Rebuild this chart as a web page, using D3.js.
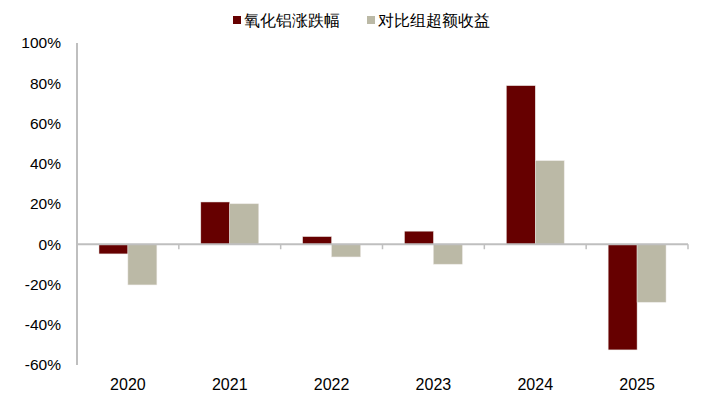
<!DOCTYPE html>
<html>
<head>
<meta charset="utf-8">
<script src="https://cdn.jsdelivr.net/npm/d3@7"></script>
<style>
  body { margin: 0; background: #fff; }
  text { font-family: "Liberation Sans", Arial, sans-serif; }
</style>
</head>
<body>
<div id="chart"></div>
<script>
const years = ["2020", "2021", "2022", "2023", "2024", "2025"];
const seriesNames = ["氧化铝涨跌幅", "对比组超额收益"];
const aluminaChange = [-4.8, 21.0, 3.8, 6.5, 78.8, -52.5];
const excessReturn = [-20.2, 20.1, -6.3, -9.9, 41.5, -28.8];
const yTicks = [100, 80, 60, 40, 20, 0, -20, -40, -60];

const width = 703, height = 399;
const margin = { top: 43, right: 15, bottom: 34, left: 77 };
const colors = ["#660000", "#bbb9a6"];

const svg = d3.select("#chart").append("svg").attr("width", width).attr("height", height);

const x0 = d3.scaleBand().domain(years).range([margin.left, width - margin.right]).padding(0);
const x1 = d3.scaleBand().domain(seriesNames).range([0, x0.bandwidth()]).paddingInner(0).paddingOuter(0.76);
const y = d3.scaleLinear().domain([-60, 100]).range([height - margin.bottom, margin.top]);

const rows = years.map((yr, i) => ({ year: yr, values: [aluminaChange[i], excessReturn[i]] }));

// bars
const groups = svg.append("g").selectAll("g")
    .data(rows)
    .join("g")
    .attr("transform", d => `translate(${x0(d.year)},0)`);

groups.selectAll("rect")
    .data(d => d.values.map((v, k) => ({ key: seriesNames[k], k: k, v: v })))
    .join("rect")
    .attr("x", d => x1(d.key))
    .attr("y", d => y(Math.max(0, d.v)))
    .attr("width", x1.bandwidth())
    .attr("height", d => Math.abs(y(d.v) - y(0)))
    .attr("fill", d => colors[d.k])
    .attr("stroke", "#e8e4e0")
    .attr("stroke-width", 0.5);

// y axis
svg.append("line")
    .attr("x1", margin.left).attr("x2", margin.left)
    .attr("y1", y(100)).attr("y2", y(-60))
    .attr("stroke", "#bfbfbf").attr("stroke-width", 2);

svg.append("g").selectAll("text")
    .data(yTicks)
    .join("text")
    .attr("x", 61)
    .attr("y", d => y(d))
    .attr("dy", "0.35em")
    .attr("text-anchor", "end")
    .attr("font-size", 15.5)
    .attr("fill", "#000")
    .text(d => d + "%");

// x axis at zero
svg.append("line")
    .attr("x1", margin.left).attr("x2", width - margin.right)
    .attr("y1", y(0)).attr("y2", y(0))
    .attr("stroke", "#bfbfbf").attr("stroke-width", 2);

const boundaries = years.map(d => x0(d)).concat([x0.range()[1]]);
svg.append("g").selectAll("line")
    .data(boundaries)
    .join("line")
    .attr("x1", d => d).attr("x2", d => d)
    .attr("y1", y(0)).attr("y2", y(0) + 5)
    .attr("stroke", "#bfbfbf").attr("stroke-width", 1.5);

svg.append("g").selectAll("text")
    .data(years)
    .join("text")
    .attr("x", d => x0(d) + x0.bandwidth() / 2)
    .attr("y", 384)
    .attr("dy", "0.35em")
    .attr("text-anchor", "middle")
    .attr("font-size", 16)
    .attr("fill", "#000")
    .text(d => d);

// legend
const legendX = [233, 367];
const legend = svg.append("g").selectAll("g")
    .data(seriesNames)
    .join("g")
    .attr("transform", (d, i) => `translate(${legendX[i]},20)`);

legend.append("rect")
    .attr("x", 0).attr("y", -4)
    .attr("width", 8).attr("height", 8)
    .attr("fill", (d, i) => colors[i]);

legend.append("text")
    .attr("x", 11)
    .attr("dy", "0.35em")
    .attr("font-size", 16)
    .attr("font-weight", 500)
    .attr("font-family", "'Noto Sans CJK SC', sans-serif")
    .attr("fill", "#000")
    .text(d => d);
</script>
</body>
</html>
